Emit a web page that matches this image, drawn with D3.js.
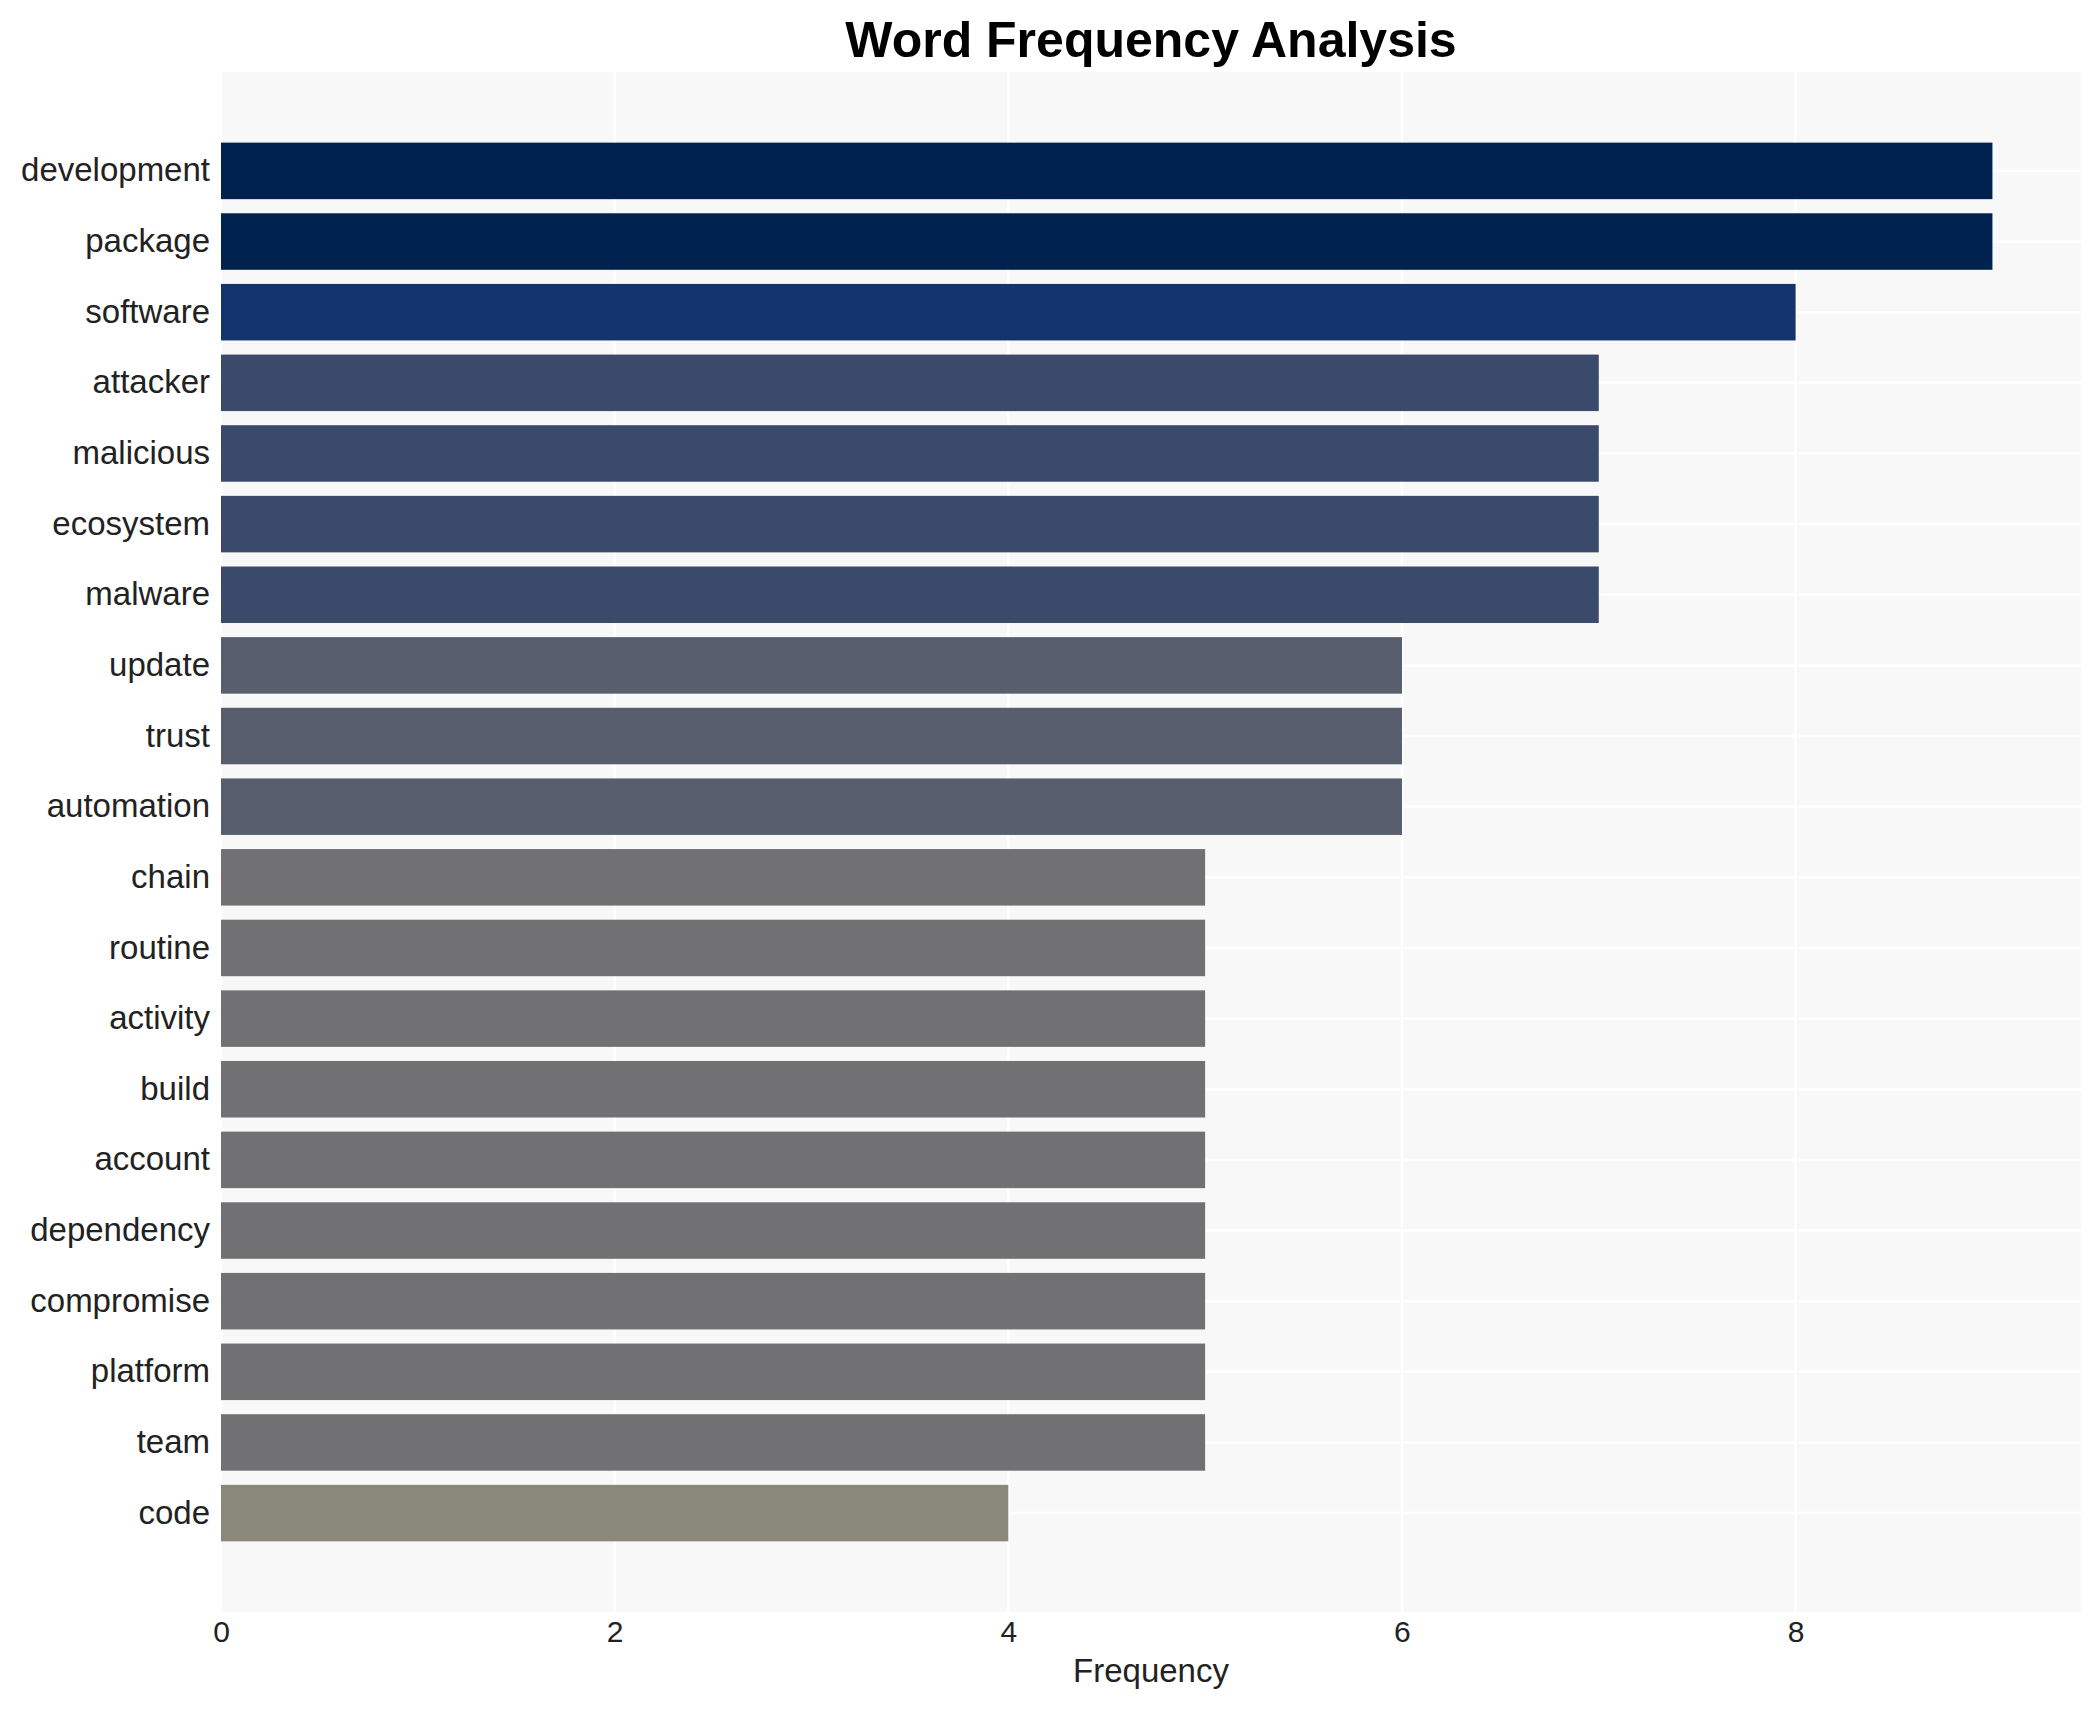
<!DOCTYPE html>
<html>
<head>
<meta charset="utf-8">
<script src="https://cdn.jsdelivr.net/npm/d3@7"></script>
<style>
  body { margin: 0; background: #fff; }
  svg { display: block; font-family: "Liberation Sans", Arial, sans-serif; }
</style>
</head>
<body>
<div class="chart"></div>
<script>
const words = ['development', 'package', 'software', 'attacker', 'malicious', 'ecosystem', 'malware',
  'update', 'trust', 'automation', 'chain', 'routine', 'activity', 'build', 'account',
  'dependency', 'compromise', 'platform', 'team', 'code'];
const counts = [9, 9, 8, 7, 7, 7, 7, 6, 6, 6, 5, 5, 5, 5, 5, 5, 5, 5, 5, 4];
const xTicks = [0, 2, 4, 6, 8];

const levels = [9, 8, 7, 6, 5, 4];
const levelColors = ['#00224f', '#13346c', '#3b4a6b', '#585e6d', '#717174', '#8a8878'];

const width = 2100;
const height = 1710;
const margin = {top: 72, right: 19, bottom: 98, left: 221};

const svg = d3.select('.chart')
  .append('svg')
    .attr('width', width)
    .attr('height', height);

const x = d3.scaleLinear()
  .domain([0, d3.max(counts) * 1.05])
  .range([margin.left, width - margin.right]);

const y = d3.scaleBand()
  .domain(words)
  .range([margin.top, height - margin.bottom])
  .paddingInner(0.2)
  .paddingOuter(1);

const color = d3.scaleOrdinal().domain(levels).range(levelColors);

// plot background
svg.append('rect')
  .attr('x', margin.left)
  .attr('y', margin.top)
  .attr('width', width - margin.left - margin.right)
  .attr('height', height - margin.top - margin.bottom)
  .attr('fill', '#f8f8f8');

// gridlines
svg.append('g')
  .selectAll('line')
  .data(xTicks)
  .join('line')
    .attr('x1', d => x(d))
    .attr('x2', d => x(d))
    .attr('y1', margin.top)
    .attr('y2', height - margin.bottom)
    .attr('stroke', '#fff')
    .attr('stroke-width', 2.5);

svg.append('g')
  .selectAll('line')
  .data(words)
  .join('line')
    .attr('x1', margin.left)
    .attr('x2', width - margin.right)
    .attr('y1', d => y(d) + y.bandwidth() / 2)
    .attr('y2', d => y(d) + y.bandwidth() / 2)
    .attr('stroke', '#fff')
    .attr('stroke-width', 2.5);

// bars
svg.append('g')
  .selectAll('rect')
  .data(words)
  .join('rect')
    .attr('x', x(0))
    .attr('y', d => y(d))
    .attr('width', (d, i) => x(counts[i]) - x(0))
    .attr('height', y.bandwidth())
    .attr('fill', (d, i) => color(counts[i]));

// y axis labels
const yAxis = svg.append('g')
  .attr('transform', `translate(${margin.left},0)`)
  .call(d3.axisLeft(y).tickSize(0).tickPadding(11));
yAxis.select('.domain').remove();
yAxis.selectAll('text')
  .style('font-size', '33px')
  .style('font-family', '"Liberation Sans", Arial, sans-serif')
  .attr('fill', '#222');

// x axis labels
const xAxis = svg.append('g')
  .attr('transform', `translate(0,${height - margin.bottom})`)
  .call(d3.axisBottom(x).tickValues(xTicks).tickSize(0).tickPadding(9));
xAxis.select('.domain').remove();
xAxis.selectAll('text')
  .style('font-size', '30px')
  .style('font-family', '"Liberation Sans", Arial, sans-serif')
  .attr('fill', '#222');

svg.append('text')
  .attr('x', (margin.left + width - margin.right) / 2)
  .attr('y', 1682)
  .attr('text-anchor', 'middle')
  .attr('font-size', '33px')
  .attr('fill', '#222')
  .text('Frequency');

svg.append('text')
  .attr('x', (margin.left + width - margin.right) / 2)
  .attr('y', 57)
  .attr('text-anchor', 'middle')
  .attr('font-size', '50px')
  .attr('font-weight', 'bold')
  .attr('fill', '#000')
  .text('Word Frequency Analysis');
</script>
</body>
</html>
